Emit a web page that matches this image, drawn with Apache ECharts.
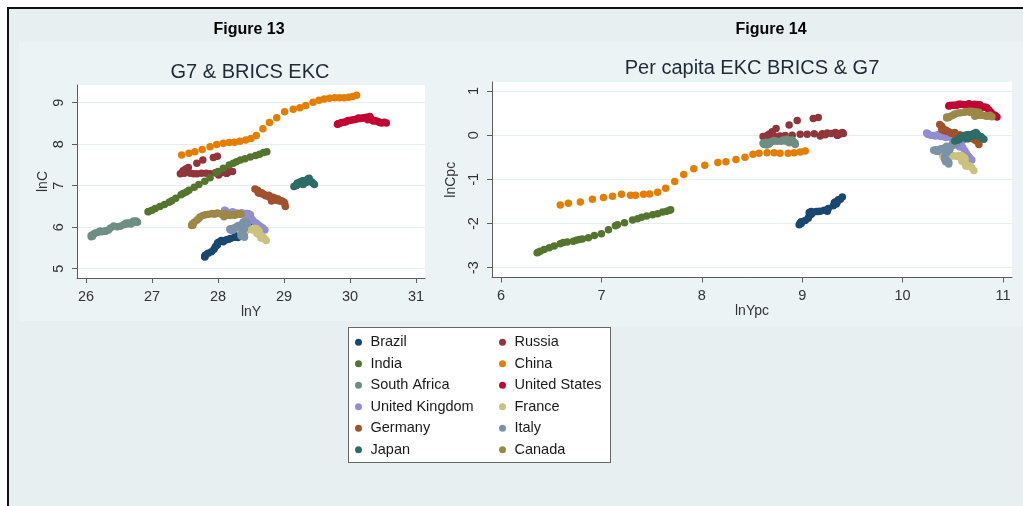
<!DOCTYPE html>
<html>
<head>
<meta charset="utf-8">
<title>G7 &amp; BRICS EKC</title>
<script src="https://cdn.jsdelivr.net/npm/echarts@6/dist/echarts.min.js"></script>
<style>
  html, body { margin: 0; padding: 0; width: 1023px; height: 506px; overflow: hidden; background: #fff; }
  #frame { position: absolute; left: 7px; top: 7px; right: 0; bottom: 0; background: #E8EFF1;
           border-left: 2px solid #111; border-top: 2px solid #111; }
  .region { position: absolute; background: #ECF3F5; }
  #legendBox { position: absolute; left: 348px; top: 327px; width: 263px; height: 136px;
               background: #fff; border: 1px solid #666; box-sizing: border-box; }
  #chart { position: absolute; left: 0; top: 0; width: 1023px; height: 506px; }
</style>
</head>
<body>
<div id="frame"></div>
<div class="region" style="left:19px;top:42px;width:421px;height:279px;"></div>
<div class="region" style="left:440px;top:42px;width:583px;height:284px;"></div>
<div id="legendBox"></div>
<div id="chart"></div>
<script>
// ---- Country list, legend order, colours (Stata s2color) ----
const countries = ['Brazil', 'Russia', 'India', 'China', 'South Africa', 'United States',
                   'United Kingdom', 'France', 'Germany', 'Italy', 'Japan', 'Canada'];
const colors = ['#1A476F', '#90353B', '#55752F', '#E37E00', '#6E8E84', '#C10534',
                '#938DD2', '#CAC27E', '#A0522D', '#7B92A8', '#2D6D66', '#9C8847'];

// ---- Figure 13: lnY (x) and lnC (y), 1990-2019 ----
const lnY_Brazil = [27.80, 27.80, 27.81, 27.85, 27.90, 27.94, 27.96, 27.99, 27.99, 28.00, 28.04, 28.05, 28.07, 28.08, 28.13, 28.16, 28.19, 28.25, 28.30, 28.30, 28.37, 28.41, 28.43, 28.46, 28.47, 28.43, 28.40, 28.41, 28.42, 28.43];
const lnC_Brazil = [5.28, 5.30, 5.33, 5.37, 5.41, 5.47, 5.53, 5.57, 5.60, 5.63, 5.66, 5.68, 5.66, 5.65, 5.70, 5.71, 5.73, 5.76, 5.80, 5.75, 5.88, 5.93, 5.99, 6.05, 6.10, 6.05, 5.98, 6.00, 5.99, 5.98];
const lnY_Russia = [27.99, 27.93, 27.77, 27.68, 27.55, 27.51, 27.47, 27.48, 27.43, 27.49, 27.58, 27.63, 27.68, 27.75, 27.82, 27.88, 27.96, 28.04, 28.09, 28.01, 28.05, 28.09, 28.12, 28.14, 28.15, 28.13, 28.13, 28.15, 28.18, 28.22];
const lnC_Russia = [7.71, 7.68, 7.62, 7.54, 7.44, 7.40, 7.36, 7.32, 7.29, 7.30, 7.30, 7.29, 7.29, 7.30, 7.30, 7.29, 7.31, 7.32, 7.33, 7.26, 7.31, 7.35, 7.35, 7.33, 7.33, 7.30, 7.30, 7.32, 7.35, 7.34];
const lnY_India = [26.94, 26.95, 27.00, 27.05, 27.12, 27.19, 27.26, 27.30, 27.36, 27.44, 27.47, 27.52, 27.56, 27.64, 27.71, 27.80, 27.88, 27.97, 28.00, 28.08, 28.17, 28.23, 28.28, 28.34, 28.41, 28.49, 28.57, 28.63, 28.69, 28.74];
const lnC_India = [6.37, 6.38, 6.41, 6.45, 6.50, 6.55, 6.60, 6.64, 6.70, 6.78, 6.81, 6.85, 6.89, 6.96, 7.03, 7.11, 7.19, 7.31, 7.34, 7.42, 7.50, 7.54, 7.58, 7.62, 7.65, 7.69, 7.73, 7.76, 7.80, 7.82];
const lnY_China = [27.45, 27.56, 27.65, 27.76, 27.88, 27.98, 28.08, 28.17, 28.25, 28.33, 28.42, 28.50, 28.58, 28.68, 28.78, 28.89, 29.01, 29.14, 29.24, 29.33, 29.44, 29.53, 29.61, 29.69, 29.77, 29.84, 29.91, 29.98, 30.04, 30.10];
const lnC_China = [7.74, 7.78, 7.82, 7.87, 7.94, 7.99, 8.02, 8.04, 8.05, 8.07, 8.10, 8.14, 8.21, 8.37, 8.52, 8.64, 8.78, 8.84, 8.88, 8.93, 9.01, 9.06, 9.09, 9.11, 9.12, 9.12, 9.12, 9.13, 9.15, 9.18];
const lnY_SouthAfrica = [26.09, 26.10, 26.08, 26.08, 26.11, 26.14, 26.18, 26.21, 26.22, 26.24, 26.28, 26.30, 26.34, 26.37, 26.42, 26.47, 26.52, 26.57, 26.61, 26.59, 26.62, 26.65, 26.68, 26.70, 26.72, 26.73, 26.74, 26.76, 26.77, 26.78];
const lnC_SouthAfrica = [5.79, 5.78, 5.77, 5.80, 5.83, 5.86, 5.88, 5.90, 5.90, 5.89, 5.91, 5.90, 5.93, 5.98, 6.03, 6.01, 6.02, 6.06, 6.10, 6.08, 6.08, 6.10, 6.08, 6.12, 6.15, 6.12, 6.14, 6.15, 6.13, 6.12];
const lnY_UnitedStates = [29.82, 29.81, 29.84, 29.87, 29.91, 29.94, 29.97, 30.01, 30.05, 30.09, 30.13, 30.14, 30.16, 30.19, 30.22, 30.25, 30.28, 30.30, 30.30, 30.27, 30.30, 30.32, 30.35, 30.37, 30.40, 30.43, 30.45, 30.48, 30.52, 30.55];
const lnC_UnitedStates = [8.49, 8.48, 8.50, 8.52, 8.53, 8.54, 8.57, 8.58, 8.59, 8.60, 8.63, 8.62, 8.62, 8.63, 8.64, 8.65, 8.64, 8.67, 8.65, 8.59, 8.62, 8.60, 8.56, 8.57, 8.56, 8.54, 8.52, 8.51, 8.53, 8.51];
const lnY_UnitedKingdom = [28.11, 28.10, 28.11, 28.14, 28.17, 28.20, 28.22, 28.25, 28.28, 28.31, 28.34, 28.36, 28.38, 28.41, 28.43, 28.45, 28.47, 28.49, 28.49, 28.45, 28.47, 28.49, 28.51, 28.53, 28.58, 28.61, 28.64, 28.67, 28.69, 28.71];
const lnC_UnitedKingdom = [6.40, 6.41, 6.38, 6.36, 6.35, 6.34, 6.37, 6.33, 6.34, 6.32, 6.33, 6.35, 6.32, 6.33, 6.33, 6.33, 6.32, 6.30, 6.28, 6.20, 6.23, 6.17, 6.20, 6.16, 6.10, 6.06, 6.02, 5.99, 5.96, 5.93];
const lnY_France = [28.33, 28.34, 28.36, 28.35, 28.37, 28.39, 28.40, 28.42, 28.45, 28.48, 28.51, 28.52, 28.53, 28.54, 28.56, 28.58, 28.60, 28.62, 28.62, 28.59, 28.61, 28.63, 28.63, 28.64, 28.65, 28.66, 28.67, 28.69, 28.71, 28.73];
const lnC_France = [5.93, 5.97, 5.94, 5.89, 5.88, 5.90, 5.94, 5.91, 5.96, 5.95, 5.94, 5.96, 5.94, 5.96, 5.97, 5.97, 5.94, 5.91, 5.90, 5.85, 5.87, 5.81, 5.82, 5.82, 5.74, 5.75, 5.74, 5.75, 5.71, 5.68];
const lnY_Germany = [28.56, 28.60, 28.62, 28.61, 28.63, 28.65, 28.66, 28.68, 28.70, 28.72, 28.75, 28.77, 28.77, 28.77, 28.78, 28.79, 28.83, 28.86, 28.87, 28.81, 28.85, 28.89, 28.90, 28.91, 28.93, 28.95, 28.97, 29.00, 29.01, 29.02];
const lnC_Germany = [6.92, 6.89, 6.85, 6.83, 6.82, 6.81, 6.83, 6.80, 6.79, 6.76, 6.75, 6.77, 6.75, 6.75, 6.73, 6.72, 6.72, 6.69, 6.70, 6.63, 6.66, 6.65, 6.66, 6.68, 6.63, 6.64, 6.63, 6.60, 6.57, 6.50];
const lnY_Italy = [28.18, 28.19, 28.20, 28.19, 28.21, 28.24, 28.25, 28.27, 28.29, 28.31, 28.35, 28.37, 28.38, 28.38, 28.40, 28.41, 28.43, 28.45, 28.43, 28.37, 28.39, 28.40, 28.37, 28.35, 28.35, 28.36, 28.37, 28.39, 28.40, 28.40];
const lnC_Italy = [5.95, 5.96, 5.95, 5.93, 5.92, 5.98, 5.97, 5.99, 6.02, 6.04, 6.05, 6.07, 6.08, 6.12, 6.13, 6.14, 6.11, 6.10, 6.07, 5.96, 5.98, 5.96, 5.90, 5.83, 5.79, 5.82, 5.80, 5.80, 5.78, 5.76];
const lnY_Japan = [29.15, 29.18, 29.19, 29.19, 29.20, 29.22, 29.25, 29.26, 29.25, 29.24, 29.27, 29.27, 29.27, 29.29, 29.31, 29.32, 29.34, 29.36, 29.35, 29.29, 29.33, 29.34, 29.36, 29.38, 29.38, 29.39, 29.40, 29.42, 29.44, 29.46];
const lnC_Japan = [6.98, 7.00, 7.01, 7.01, 7.06, 7.07, 7.08, 7.08, 7.05, 7.09, 7.10, 7.09, 7.11, 7.12, 7.12, 7.12, 7.11, 7.14, 7.09, 7.03, 7.08, 7.12, 7.16, 7.18, 7.15, 7.12, 7.10, 7.09, 7.06, 7.03];
const lnY_Canada = [27.62, 27.60, 27.61, 27.64, 27.68, 27.71, 27.73, 27.77, 27.81, 27.86, 27.91, 27.93, 27.96, 27.99, 28.02, 28.05, 28.08, 28.11, 28.12, 28.09, 28.12, 28.15, 28.18, 28.20, 28.23, 28.25, 28.27, 28.30, 28.32, 28.35];
const lnC_Canada = [6.05, 6.04, 6.08, 6.12, 6.17, 6.21, 6.25, 6.28, 6.30, 6.31, 6.33, 6.32, 6.32, 6.34, 6.33, 6.32, 6.30, 6.33, 6.30, 6.25, 6.28, 6.29, 6.29, 6.30, 6.30, 6.29, 6.30, 6.32, 6.33, 6.31];

// ---- Figure 14: lnYpc (x) and lnCpc (y), 1990-2019 ----
const lnYpc_Brazil = [8.99, 8.98, 8.97, 8.99, 9.03, 9.06, 9.07, 9.09, 9.08, 9.07, 9.09, 9.09, 9.10, 9.10, 9.14, 9.16, 9.18, 9.22, 9.26, 9.25, 9.31, 9.34, 9.35, 9.38, 9.40, 9.36, 9.32, 9.33, 9.33, 9.34];
const lnCpc_Brazil = [-2.00, -1.99, -2.03, -1.96, -1.93, -1.88, -1.83, -1.79, -1.77, -1.75, -1.74, -1.73, -1.75, -1.76, -1.73, -1.73, -1.72, -1.70, -1.66, -1.72, -1.60, -1.56, -1.51, -1.45, -1.40, -1.46, -1.53, -1.51, -1.52, -1.53];
const lnYpc_Russia = [9.16, 9.11, 8.95, 8.87, 8.74, 8.70, 8.67, 8.65, 8.61, 8.65, 8.72, 8.78, 8.83, 8.90, 8.98, 9.05, 9.12, 9.20, 9.25, 9.18, 9.23, 9.29, 9.33, 9.36, 9.36, 9.35, 9.35, 9.37, 9.40, 9.41];
const lnCpc_Russia = [0.40, 0.38, 0.33, 0.23, 0.15, 0.08, 0.02, -0.01, -0.03, -0.03, -0.02, -0.02, -0.01, 0.00, 0.02, 0.02, 0.03, 0.03, 0.05, -0.02, 0.01, 0.04, 0.06, 0.04, 0.03, 0.00, 0.00, 0.02, 0.06, 0.04];
const lnYpc_India = [6.36, 6.37, 6.39, 6.43, 6.48, 6.53, 6.59, 6.62, 6.66, 6.72, 6.75, 6.78, 6.81, 6.87, 6.93, 7.00, 7.07, 7.14, 7.16, 7.23, 7.31, 7.36, 7.40, 7.45, 7.51, 7.56, 7.61, 7.65, 7.68, 7.69];
const lnCpc_India = [-2.66, -2.65, -2.63, -2.59, -2.55, -2.51, -2.46, -2.43, -2.42, -2.40, -2.38, -2.36, -2.35, -2.32, -2.27, -2.23, -2.14, -2.05, -2.03, -1.98, -1.92, -1.89, -1.86, -1.83, -1.80, -1.78, -1.74, -1.72, -1.70, -1.69];
const lnYpc_China = [6.59, 6.67, 6.79, 6.91, 7.02, 7.11, 7.20, 7.29, 7.34, 7.42, 7.48, 7.56, 7.64, 7.73, 7.82, 7.92, 8.03, 8.16, 8.24, 8.34, 8.43, 8.51, 8.57, 8.65, 8.72, 8.78, 8.86, 8.92, 8.98, 9.03];
const lnCpc_China = [-1.58, -1.54, -1.51, -1.45, -1.41, -1.38, -1.34, -1.36, -1.36, -1.34, -1.33, -1.29, -1.20, -1.05, -0.89, -0.76, -0.68, -0.62, -0.60, -0.55, -0.50, -0.43, -0.41, -0.40, -0.40, -0.41, -0.41, -0.40, -0.38, -0.36];
const lnYpc_SouthAfrica = [8.72, 8.69, 8.65, 8.62, 8.61, 8.62, 8.64, 8.64, 8.62, 8.62, 8.64, 8.65, 8.67, 8.68, 8.72, 8.75, 8.79, 8.83, 8.85, 8.81, 8.83, 8.86, 8.87, 8.89, 8.90, 8.90, 8.91, 8.92, 8.93, 8.93];
const lnCpc_SouthAfrica = [-0.13, -0.15, -0.17, -0.19, -0.18, -0.17, -0.16, -0.17, -0.19, -0.21, -0.20, -0.22, -0.20, -0.16, -0.12, -0.14, -0.14, -0.12, -0.09, -0.11, -0.13, -0.14, -0.17, -0.13, -0.11, -0.16, -0.15, -0.16, -0.18, -0.21];
const lnYpc_UnitedStates = [10.47, 10.46, 10.48, 10.50, 10.52, 10.54, 10.56, 10.58, 10.61, 10.63, 10.66, 10.67, 10.68, 10.70, 10.72, 10.74, 10.76, 10.77, 10.77, 10.74, 10.76, 10.78, 10.80, 10.82, 10.84, 10.86, 10.88, 10.90, 10.92, 10.94];
const lnCpc_UnitedStates = [0.67, 0.66, 0.67, 0.68, 0.68, 0.68, 0.70, 0.70, 0.69, 0.69, 0.71, 0.69, 0.69, 0.69, 0.70, 0.69, 0.68, 0.69, 0.67, 0.64, 0.66, 0.64, 0.63, 0.64, 0.62, 0.57, 0.52, 0.47, 0.45, 0.41];
const lnYpc_UnitedKingdom = [10.25, 10.24, 10.25, 10.28, 10.31, 10.33, 10.35, 10.38, 10.40, 10.43, 10.46, 10.48, 10.50, 10.52, 10.54, 10.56, 10.58, 10.60, 10.59, 10.55, 10.56, 10.57, 10.58, 10.60, 10.62, 10.63, 10.64, 10.66, 10.67, 10.69];
const lnCpc_UnitedKingdom = [0.04, 0.05, 0.02, 0.00, -0.01, -0.02, 0.01, -0.03, -0.03, -0.05, -0.04, -0.03, -0.06, -0.05, -0.06, -0.07, -0.08, -0.11, -0.14, -0.22, -0.19, -0.27, -0.24, -0.28, -0.35, -0.40, -0.44, -0.48, -0.52, -0.56];
const lnYpc_France = [10.40, 10.41, 10.42, 10.41, 10.43, 10.44, 10.45, 10.47, 10.50, 10.52, 10.55, 10.56, 10.56, 10.57, 10.58, 10.59, 10.61, 10.62, 10.62, 10.59, 10.60, 10.62, 10.62, 10.62, 10.63, 10.64, 10.65, 10.67, 10.69, 10.71];
const lnCpc_France = [-0.47, -0.43, -0.46, -0.51, -0.52, -0.50, -0.47, -0.50, -0.46, -0.47, -0.48, -0.46, -0.48, -0.47, -0.46, -0.47, -0.50, -0.53, -0.55, -0.59, -0.57, -0.63, -0.62, -0.62, -0.70, -0.69, -0.70, -0.70, -0.74, -0.80];
const lnYpc_Germany = [10.37, 10.39, 10.40, 10.39, 10.41, 10.42, 10.43, 10.44, 10.46, 10.48, 10.50, 10.52, 10.52, 10.51, 10.52, 10.53, 10.57, 10.60, 10.61, 10.55, 10.59, 10.63, 10.64, 10.64, 10.66, 10.68, 10.70, 10.72, 10.74, 10.76];
const lnCpc_Germany = [0.24, 0.20, 0.15, 0.13, 0.11, 0.10, 0.12, 0.09, 0.08, 0.05, 0.04, 0.06, 0.04, 0.04, 0.02, 0.01, 0.01, -0.02, -0.01, -0.08, -0.05, -0.06, -0.05, -0.03, -0.08, -0.07, -0.08, -0.11, -0.14, -0.21];
const lnYpc_Italy = [10.31, 10.33, 10.34, 10.33, 10.35, 10.38, 10.39, 10.41, 10.43, 10.44, 10.48, 10.50, 10.50, 10.50, 10.51, 10.51, 10.53, 10.54, 10.52, 10.46, 10.47, 10.47, 10.44, 10.42, 10.42, 10.43, 10.44, 10.45, 10.46, 10.46];
const lnCpc_Italy = [-0.34, -0.33, -0.34, -0.36, -0.37, -0.31, -0.32, -0.30, -0.27, -0.25, -0.24, -0.22, -0.21, -0.17, -0.16, -0.15, -0.18, -0.19, -0.22, -0.33, -0.31, -0.33, -0.40, -0.47, -0.55, -0.60, -0.57, -0.60, -0.62, -0.65];
const lnYpc_Japan = [10.52, 10.55, 10.56, 10.56, 10.57, 10.59, 10.62, 10.62, 10.61, 10.60, 10.63, 10.63, 10.63, 10.65, 10.67, 10.68, 10.69, 10.71, 10.70, 10.64, 10.69, 10.69, 10.71, 10.73, 10.74, 10.75, 10.76, 10.78, 10.79, 10.81];
const lnCpc_Japan = [-0.13, -0.11, -0.10, -0.10, -0.05, -0.04, -0.03, -0.03, -0.06, -0.02, -0.01, -0.02, 0.00, 0.01, 0.01, 0.01, 0.00, 0.03, -0.02, -0.08, -0.03, 0.01, 0.04, 0.06, 0.03, 0.00, -0.02, -0.03, -0.06, -0.09];
const lnYpc_Canada = [10.46, 10.44, 10.44, 10.46, 10.49, 10.51, 10.52, 10.55, 10.58, 10.62, 10.66, 10.67, 10.68, 10.69, 10.72, 10.74, 10.75, 10.76, 10.76, 10.72, 10.74, 10.76, 10.77, 10.78, 10.80, 10.82, 10.84, 10.85, 10.87, 10.89];
const lnCpc_Canada = [0.40, 0.39, 0.41, 0.42, 0.44, 0.46, 0.48, 0.50, 0.51, 0.52, 0.54, 0.52, 0.52, 0.54, 0.53, 0.52, 0.50, 0.52, 0.49, 0.43, 0.46, 0.46, 0.45, 0.46, 0.45, 0.44, 0.43, 0.44, 0.45, 0.42];

// ---- Axis ticks ----
const ticksLnY = [26, 27, 28, 29, 30, 31];
const ticksLnC = [5, 6, 7, 8, 9];
const ticksLnYpc = [6, 7, 8, 9, 10, 11];
const ticksLnCpc = [-3, -2, -1, 0, 1];

const fig13 = [
  [lnY_Brazil, lnC_Brazil], [lnY_Russia, lnC_Russia], [lnY_India, lnC_India], [lnY_China, lnC_China],
  [lnY_SouthAfrica, lnC_SouthAfrica], [lnY_UnitedStates, lnC_UnitedStates], [lnY_UnitedKingdom, lnC_UnitedKingdom],
  [lnY_France, lnC_France], [lnY_Germany, lnC_Germany], [lnY_Italy, lnC_Italy], [lnY_Japan, lnC_Japan], [lnY_Canada, lnC_Canada]
];
const fig14 = [
  [lnYpc_Brazil, lnCpc_Brazil], [lnYpc_Russia, lnCpc_Russia], [lnYpc_India, lnCpc_India], [lnYpc_China, lnCpc_China],
  [lnYpc_SouthAfrica, lnCpc_SouthAfrica], [lnYpc_UnitedStates, lnCpc_UnitedStates], [lnYpc_UnitedKingdom, lnCpc_UnitedKingdom],
  [lnYpc_France, lnCpc_France], [lnYpc_Germany, lnCpc_Germany], [lnYpc_Italy, lnCpc_Italy], [lnYpc_Japan, lnCpc_Japan], [lnYpc_Canada, lnCpc_Canada]
];

const FONT = '"Liberation Sans", Arial, sans-serif';
const AXIS_COLOR = '#5c5c5c';
const TEXT_COLOR = '#333';

function pairs(xs, ys) { return xs.map((x, i) => [x, ys[i]]); }

function xAxisCfg(gridIndex, min, max, ticks, name) {
  return {
    type: 'value', gridIndex, min, max, name,
    nameLocation: 'middle', nameGap: 26,
    nameTextStyle: { fontSize: 14, color: TEXT_COLOR, fontFamily: FONT },
    axisLine: { show: true, onZero: false, lineStyle: { color: AXIS_COLOR, width: 1 } },
    axisTick: { show: true, length: 5, customValues: ticks, lineStyle: { color: AXIS_COLOR } },
    axisLabel: { customValues: ticks, fontSize: 14.5, color: TEXT_COLOR, fontFamily: FONT, margin: 11 },
    splitLine: { show: false }
  };
}
function yAxisCfg(gridIndex, min, max, ticks, name, nameGap) {
  return {
    type: 'value', gridIndex, min, max, name,
    nameLocation: 'middle', nameGap, nameRotate: 90,
    nameTextStyle: { fontSize: 14, color: TEXT_COLOR, fontFamily: FONT },
    axisLine: { show: true, onZero: false, lineStyle: { color: AXIS_COLOR, width: 1 } },
    axisTick: { show: true, length: 5, customValues: ticks, lineStyle: { color: AXIS_COLOR } },
    axisLabel: { customValues: ticks, rotate: 90, fontSize: 14.5, color: TEXT_COLOR, fontFamily: FONT, margin: 11 },
    splitLine: { show: true, lineStyle: { color: '#E5EDEF', width: 1 } }
  };
}

const series = [];
countries.forEach((name, i) => {
  const common = { name, type: 'scatter', symbol: 'circle', symbolSize: 7.5,
                   itemStyle: { color: colors[i], opacity: 1 }, z: 2 + i * 0.01 };
  series.push(Object.assign({}, common, { xAxisIndex: 0, yAxisIndex: 0, data: pairs(fig13[i][0], fig13[i][1]) }));
  series.push(Object.assign({}, common, { xAxisIndex: 1, yAxisIndex: 1, data: pairs(fig14[i][0], fig14[i][1]) }));
});

const legendCommon = {
  orient: 'vertical', icon: 'circle', itemWidth: 14, itemHeight: 7, itemGap: 0,
  selectedMode: false, padding: 0,
  textStyle: { fontSize: 14.5, color: '#1a1a1a', fontFamily: FONT, lineHeight: 21.5 }
};

const chart = echarts.init(document.getElementById('chart'), null, { renderer: 'canvas' });
chart.setOption({
  animation: false,
  backgroundColor: 'transparent',
  textStyle: { fontFamily: FONT },
  grid: [
    { left: 77, top: 85, width: 348, height: 193, show: true, backgroundColor: '#fff', borderWidth: 0 },
    { left: 492, top: 82, width: 520, height: 195.5, show: true, backgroundColor: '#fff', borderWidth: 0 }
  ],
  xAxis: [
    xAxisCfg(0, 25.864, 31.136, ticksLnY, 'lnY'),
    xAxisCfg(1, 5.910, 11.09, ticksLnYpc, 'lnYpc')
  ],
  yAxis: [
    yAxisCfg(0, 4.776, 9.4265, ticksLnC, 'lnC', 25),
    yAxisCfg(1, -3.222, 1.204, ticksLnCpc, 'lnCpc', 28)
  ],
  legend: [
    Object.assign({}, legendCommon, { left: 355, top: 331.5,
      data: ['Brazil', 'India', 'South Africa', 'United Kingdom', 'Germany', 'Japan'] }),
    Object.assign({}, legendCommon, { left: 499, top: 331.5,
      data: ['Russia', 'China', 'United States', 'France', 'Italy', 'Canada'] })
  ],
  graphic: [
    { type: 'text', x: 249, y: 30, style: { text: 'Figure 13', fontSize: 16, fontWeight: 'bold', fontFamily: FONT, fill: '#000', align: 'center', verticalAlign: 'middle' } },
    { type: 'text', x: 771, y: 30, style: { text: 'Figure 14', fontSize: 16, fontWeight: 'bold', fontFamily: FONT, fill: '#000', align: 'center', verticalAlign: 'middle' } },
    { type: 'text', x: 250, y: 72, style: { text: 'G7 & BRICS EKC', fontSize: 20, fontFamily: FONT, fill: '#1E2A35', align: 'center', verticalAlign: 'middle' } },
    { type: 'text', x: 752, y: 68, style: { text: 'Per capita EKC BRICS & G7', fontSize: 20, fontFamily: FONT, fill: '#1E2A35', align: 'center', verticalAlign: 'middle' } }
  ],
  series
});
</script>
</body>
</html>
